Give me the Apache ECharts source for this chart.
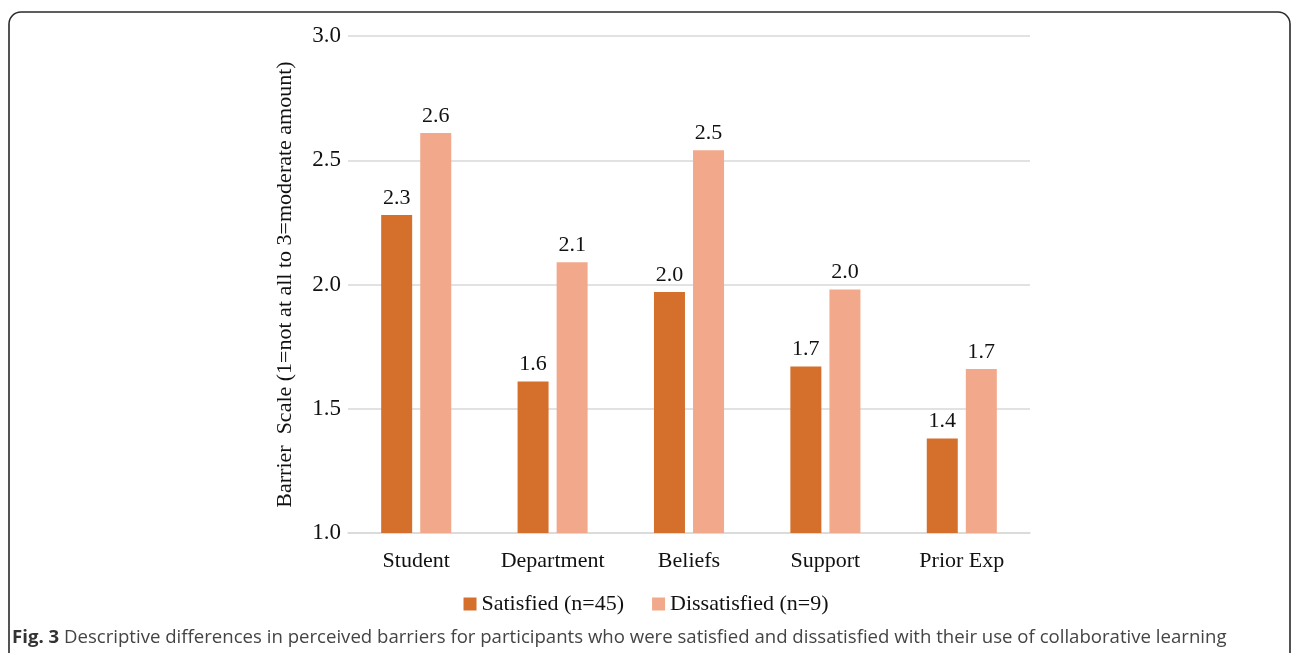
<!DOCTYPE html>
<html>
<head>
<meta charset="utf-8">
<style>
  html, body { margin: 0; padding: 0; background: #ffffff; }
  #chart { width: 1292px; height: 653px; }
</style>
<script src="https://cdn.jsdelivr.net/npm/echarts@6/dist/echarts.min.js"></script>
</head>
<body>
<div id="chart"></div>
<script>
// Barrier categories and mean scale scores per group
const categories = ['Student', 'Department', 'Beliefs', 'Support', 'Prior Exp'];
const satisfied = [2.28, 1.61, 1.97, 1.67, 1.38];
const dissatisfied = [2.61, 2.09, 2.54, 1.98, 1.66];
const seriesNames = ['Satisfied (n=45)', 'Dissatisfied (n=9)'];
const yTicks = [1.0, 1.5, 2.0, 2.5, 3.0];

const serif = '"Liberation Serif", "Times New Roman", serif';
const sans = '"Open Sans", "Noto Sans", sans-serif';

const chart = echarts.init(document.getElementById('chart'), null, { renderer: 'canvas' });

const labelCfg = {
  show: true,
  position: 'top',
  distance: 6,
  fontFamily: serif,
  fontSize: 22,
  color: '#111',
  formatter: p => p.value.toFixed(1)
};

chart.setOption({
  backgroundColor: '#ffffff',
  animation: false,
  grid: { left: 348, right: 262, top: 36, bottom: 120 },
  legend: {
    top: 588,
    left: 'center',
    itemWidth: 13,
    itemHeight: 13,
    itemGap: 28,
    icon: 'rect',
    textStyle: { fontFamily: serif, fontSize: 22, color: '#111' },
    data: seriesNames
  },
  xAxis: {
    type: 'category',
    data: categories,
    axisLine: { show: true, lineStyle: { color: '#d9d9d9', width: 1.5 } },
    axisTick: { show: false },
    axisLabel: { margin: 17, fontFamily: serif, fontSize: 22, color: '#111' }
  },
  yAxis: {
    type: 'value',
    min: yTicks[0],
    max: yTicks[yTicks.length - 1],
    interval: 0.5,
    name: 'Barrier  Scale (1=not at all to 3=moderate amount)',
    nameLocation: 'middle',
    nameGap: 52,
    nameTextStyle: { fontFamily: serif, fontSize: 22, color: '#111' },
    axisLine: { show: false },
    axisTick: { show: false },
    axisLabel: {
      margin: 7,
      fontFamily: serif,
      fontSize: 23,
      color: '#111',
      formatter: v => v.toFixed(1)
    },
    splitLine: { lineStyle: { color: '#d9d9d9', width: 1.5 } }
  },
  series: [
    {
      name: seriesNames[0],
      type: 'bar',
      data: satisfied,
      barWidth: 31,
      barGap: '26%',
      itemStyle: { color: '#d4702c' },
      label: labelCfg
    },
    {
      name: seriesNames[1],
      type: 'bar',
      data: dissatisfied,
      barWidth: 31,
      itemStyle: { color: '#f2a98b' },
      label: labelCfg
    }
  ],
  graphic: [
    {
      type: 'rect',
      shape: { x: 9, y: 12, width: 1281, height: 700, r: 12 },
      style: { fill: 'none', stroke: '#2a2a2a', lineWidth: 1.6 },
      silent: true
    },
    {
      type: 'text',
      left: 12,
      top: 628,
      style: {
        text: '{b|Fig. 3} Descriptive differences in perceived barriers for participants who were satisfied and dissatisfied with their use of collaborative learning',
        fontFamily: sans,
        fontSize: 18.6,
        fill: '#444',
        rich: {
          b: { fontFamily: sans, fontSize: 18.6, fontWeight: 'bold', fill: '#333' }
        }
      }
    }
  ]
});
</script>
</body>
</html>
